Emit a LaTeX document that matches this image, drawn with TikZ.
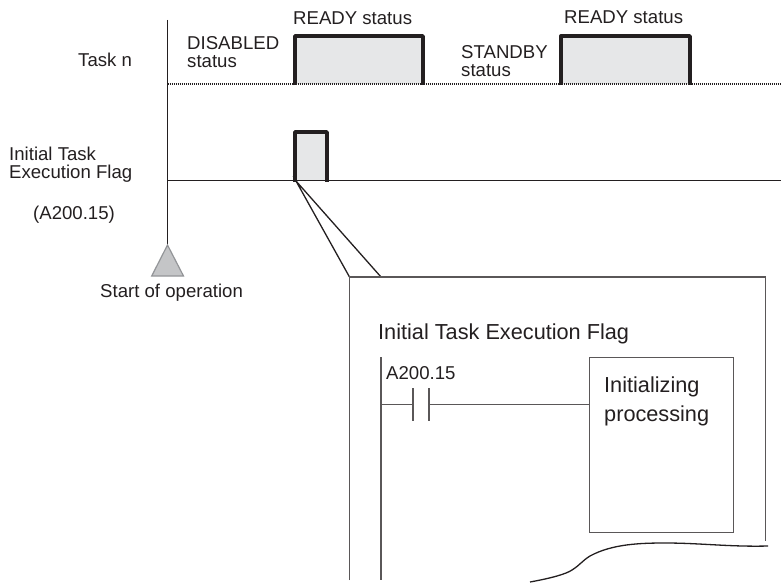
\documentclass[tikz,border=0pt]{standalone}
\usepackage{fontspec}
\setmainfont{Liberation Sans}
\usepackage{xcolor}
\usetikzlibrary{calc,positioning}
\definecolor{pulsefill}{HTML}{E6E7E8}
\definecolor{trifill}{HTML}{C4C5C7}
\definecolor{trigray}{HTML}{939598}
\definecolor{inkline}{HTML}{231F20}
\tikzset{
  lab/.style={inner sep=0pt,align=left,text=inkline,font=\fontsize{18.6}{18}\selectfont},
  biglab/.style={inner sep=0pt,align=left,text=inkline,font=\fontsize{21.7}{29}\selectfont},
  pulse/.style={line width=3.4pt,inkline,line cap=butt,line join=round},
  thinline/.style={line width=1.1pt,draw=inkline!75},
}
\begin{document}
\begin{tikzpicture}[x=1pt,y=-1pt]
\useasboundingbox (0,0) rectangle (781,583);
% time axis
\coordinate (axistop) at (167.5,20);
\coordinate (tip) at (167.5,245);
\coordinate (taskstart) at (167.5,84);
\coordinate (taskend) at (781,84);
\coordinate (flagstart) at (167.5,180.5);
\coordinate (flagend) at (781,180.5);
\fill[pulsefill] (295,36) rectangle (423,84);
\fill[pulsefill] (561,36) rectangle (690,84);
\fill[pulsefill] (295,132) rectangle (327,180.5);
\draw[line width=1.5pt,inkline] (axistop)--(tip);
\draw[line width=1.6pt,inkline,dash pattern=on 1.2pt off 0.8pt] (taskstart)--(taskend);
\draw[line width=1.2pt,inkline] (flagstart)--(flagend);
\draw[fill=trifill,draw=trigray,line width=1.2pt] (tip)--(151.7,276)--(183.5,276)--cycle;
% pulses
\draw[pulse] (295,85.5)--(295,36)--(423,36)--(423,85.5);
\draw[pulse] (561,85.5)--(561,36)--(690,36)--(690,85.5);
\draw[pulse] (295,182)--(295,132)--(327,132)--(327,182);
% zoom frame
\coordinate (fan) at (296,181);
\coordinate (frameA) at (349.5,277);
\coordinate (frameB) at (381,277);
\draw[line width=1.3pt,inkline] (frameA)--(fan)--(frameB);
\draw[thinline] (349.5,580)--(frameA)--(765.5,277)--(765.5,541);
\draw[line width=1.3pt,inkline] (530,582) .. controls (552,578) and (566,574) .. (572,570)
  .. controls (580,565) and (582,561) .. (590,556)
  .. controls (612,544) and (640,543) .. (665,543)
  .. controls (700,543) and (730,547) .. (768,546);
% ladder
\coordinate (railtop) at (381,357);
\coordinate (railend) at (381,580);
\coordinate (rungstart) at (381,404.5);
\coordinate (contactL) at (413,404.5);
\coordinate (contactR) at (429,404.5);
\node[draw=inkline!75,line width=1.1pt,minimum width=144pt,minimum height=175pt,inner sep=0pt,anchor=north west] (proc) at (589,357) {};
\draw[thinline] (railtop)--(railend);
\draw[thinline] (rungstart)--(contactL);
\draw[thinline] (contactR)--(proc.west |- contactR);
\draw[thinline] ($(contactL)+(0,-16.5)$)--($(contactL)+(0,16.5)$);
\draw[thinline] ($(contactR)+(0,-16.5)$)--($(contactR)+(0,16.5)$);
% labels
\node[lab,anchor=west] (taskn) at (78,60) {Task n};
\node[lab,anchor=north west] (disabled) at (187,36) {DISABLED\\status};
\node[lab,anchor=west] (ready1) at (293,18) {READY status};
\node[lab,anchor=west] (ready2) at (564,17) {READY status};
\node[lab,anchor=north west] (standby) at (461,45) {STANDBY\\status};
\node[lab,anchor=north west] (flagname) at (9,147) {Initial Task\\Execution Flag};
\node[lab,anchor=west] (flagaddr) at (33,215) {(A200.15)};
\node[lab,anchor=west] (startop) at (100,293) {Start of operation};
\node[biglab,anchor=west] (flagtitle) at (378,334) {Initial Task Execution Flag};
\node[lab,anchor=west] (addr) at (386,373) {A200.15};
\node[biglab,anchor=north west] (proctext) at (604,377) {Initializing\\processing};
\end{tikzpicture}
\end{document}
